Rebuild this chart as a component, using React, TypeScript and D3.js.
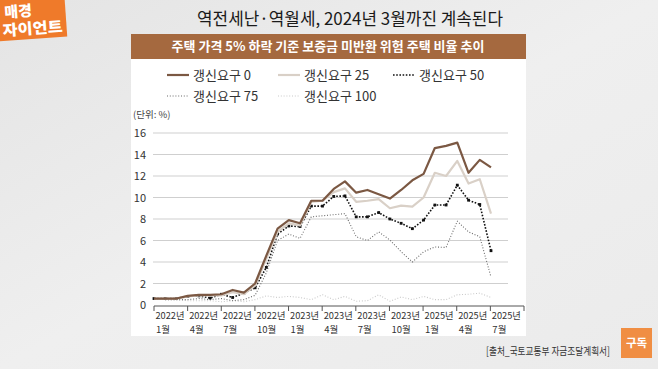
import React from 'react'
import * as d3 from 'd3'

// x-axis tick labels (quarterly bands), as printed on the chart
const tickYears = ['2022년', '2022년', '2022년', '2022년', '2023년', '2023년', '2023년', '2023년', '2025년', '2025년', '2025년']
const tickMonths = ['1월', '4월', '7월', '10월', '1월', '4월', '7월', '10월', '1월', '4월', '7월']
const yTicks = [0, 2, 4, 6, 8, 10, 12, 14, 16]

// monthly values, 31 points
const renew0 = [0.6, 0.6, 0.6, 0.85, 0.95, 0.95, 1.0, 1.4, 1.15, 2.0, 4.6, 7.1, 7.9, 7.6, 9.7, 9.7, 10.8, 11.5, 10.45, 10.7, 10.3, 9.9, 10.7, 11.6, 12.2, 14.6, 14.8, 15.1, 12.3, 13.5, 12.8]
const renew25 = [0.6, 0.6, 0.6, 0.8, 0.9, 0.9, 0.9, 1.2, 1.0, 1.8, 4.3, 6.8, 7.6, 7.4, 9.6, 9.7, 10.5, 10.85, 9.6, 9.7, 9.85, 9.0, 9.25, 9.15, 10.0, 12.3, 12.0, 13.4, 11.3, 11.7, 8.5]
const renew50 = [0.6, 0.6, 0.6, 0.8, 0.85, 0.65, 1.0, 0.7, 1.1, 1.6, 3.5, 6.6, 7.35, 7.3, 9.2, 9.2, 10.1, 10.15, 8.2, 8.2, 8.6, 8.0, 7.6, 7.1, 7.9, 9.3, 9.3, 11.15, 9.75, 9.35, 5.05]
const renew75 = [0.6, 0.5, 0.5, 0.5, 0.6, 0.5, 0.6, 0.4, 0.5, 0.9, 3.0, 6.0, 6.6, 6.2, 8.2, 8.3, 8.4, 8.5, 6.35, 6.0, 6.8, 6.05, 4.95, 4.0, 4.95, 5.4, 5.35, 7.8, 6.8, 6.35, 2.6]
const renew100 = [0.6, 0.5, 0.5, 0.4, 0.4, 0.4, 0.3, 0.4, 0.3, 0.5, 0.85, 0.7, 0.8, 0.7, 0.5, 0.95, 0.5, 0.8, 0.35, 0.4, 0.95, 0.35, 0.75, 0.5, 0.8, 0.5, 0.5, 0.95, 1.0, 1.1, 0.7]

const series = [
  { name: '갱신요구 0', values: renew0, color: '#7b5843', width: 2.2, dash: '', marker: false },
  { name: '갱신요구 25', values: renew25, color: '#d9d0c7', width: 2.2, dash: '', marker: false },
  { name: '갱신요구 50', values: renew50, color: '#111', width: 1.6, dash: '1.6 1.6', marker: true },
  { name: '갱신요구 75', values: renew75, color: '#6b6b6b', width: 1.1, dash: '1 1.8', marker: false },
  { name: '갱신요구 100', values: renew100, color: '#c9c9c9', width: 1.1, dash: '1 1.8', marker: false },
]

const FONT = "'Noto Sans CJK KR', 'Noto Sans', sans-serif"

export default function App() {
  const width = 658,
    height = 369

  const x = d3.scaleBand<number>().domain(d3.range(tickYears.length)).range([154, 524])
  const xm = d3.scaleLinear().domain([0, renew0.length - 1]).range([154, 491])
  const y = d3.scaleLinear().domain([0, 16]).range([305, 133])

  const line = d3
    .line<number>()
    .x((d, i) => xm(i))
    .y(d => y(d))

  // legend positions
  const legend = [
    { lx: 167, ly: 75 },
    { lx: 278, ly: 75 },
    { lx: 393, ly: 75 },
    { lx: 167, ly: 96 },
    { lx: 278, ly: 96 },
  ]

  const bandEdges = [...x.domain().map(d => x(d) as number), 524]

  return (
    <svg
      width={width}
      height={height}
      style={{ position: 'absolute', left: 0, top: 0, fontFamily: FONT }}
    >
      <defs>
        <linearGradient id="bg" x1="0" x2="1" y1="0" y2="1">
          <stop offset="0" stopColor="#e4e4e4" />
          <stop offset="0.5" stopColor="#efefef" />
          <stop offset="1" stopColor="#ebebeb" />
        </linearGradient>
      </defs>
      <rect width={width} height={height} fill="url(#bg)" />

      {/* logo */}
      <g transform="rotate(-4 30 20)">
        <rect x={-4} y={-6} width={70} height={45} fill="#ef7a2a" />
        <text x={5} y={16} fill="#fff" fontSize={15} fontWeight={900}>매경</text>
        <text x={2} y={34} fill="#fff" fontSize={15} fontWeight={900} textLength={60} lengthAdjust="spacingAndGlyphs">자이언트</text>
      </g>

      {/* headline */}
      <text x={197} y={25} fontSize={17} fill="#1a1a1a" textLength={306} lengthAdjust="spacingAndGlyphs">
        역전세난·역월세, 2024년 3월까진 계속된다
      </text>

      {/* card */}
      <rect x={131} y={34} width={395} height={302} fill="#fff" />
      <rect x={131} y={34} width={395} height={25} fill="#a5693f" />
      <text x={328} y={51} textAnchor="middle" fill="#fff" fontSize={13} fontWeight={700}>
        주택 가격 5% 하락 기준 보증금 미반환 위험 주택 비율 추이
      </text>

      {/* legend */}
      {series.map((s, i) => (
        <g key={s.name} transform={`translate(${legend[i].lx}, ${legend[i].ly})`}>
          <line x1={0} x2={22} y1={0} y2={0} stroke={s.color} strokeWidth={s.width} strokeDasharray={s.dash || undefined} />
          <text x={26} y={5} fontSize={13} fill="#333">{s.name}</text>
        </g>
      ))}
      <text x={133} y={118} fontSize={9.5} fill="#444">(단위: %)</text>

      {/* grid + y labels */}
      {yTicks.map(t => (
        <g key={t}>
          {t > 0 && <line x1={153} x2={508} y1={y(t)} y2={y(t)} stroke="#cfcfcf" strokeWidth={1} />}
          <text x={146} y={y(t) + 4} textAnchor="end" fontSize={11} fill="#333">{t}</text>
        </g>
      ))}

      {/* x axis */}
      <line x1={154} x2={524} y1={y(0) + 1} y2={y(0) + 1} stroke="#555" strokeWidth={1} />
      {bandEdges.map((e, i) => (
        <line key={i} x1={e} x2={e} y1={y(0) + 1} y2={y(0) + 6} stroke="#555" strokeWidth={1} />
      ))}
      {tickYears.map((t, i) => (
        <g key={i}>
          <text x={(x(i) as number) + 1.5} y={319} fontSize={9.5} fill="#333" textLength={29} lengthAdjust="spacingAndGlyphs">
            {t}
          </text>
          <text x={(x(i) as number) + 2} y={333} fontSize={9.5} fill="#333">
            {tickMonths[i]}
          </text>
        </g>
      ))}

      {/* series, drawn back to front */}
      {[...series].reverse().map(s => (
        <g key={s.name}>
          <path
            d={line(s.values) || ''}
            fill="none"
            stroke={s.color}
            strokeWidth={s.width}
            strokeDasharray={s.dash || undefined}
            strokeLinejoin="round"
          />
          {s.marker &&
            s.values.map((v, i) => (
              <rect key={i} x={xm(i) - 1.4} y={y(v) - 1.4} width={2.8} height={2.8} fill={s.color} />
            ))}
        </g>
      ))}

      {/* source + subscribe badge */}
      <text x={486} y={355} fontSize={10.5} fill="#333" textLength={124} lengthAdjust="spacingAndGlyphs">
        [출처_국토교통부 자금조달계획서]
      </text>
      <rect x={621} y={328} width={31} height={30} fill="#f0893a" opacity={0.95} />
      <text x={636.5} y={347} textAnchor="middle" fontSize={11.5} fontWeight={700} fill="#fff">구독</text>
    </svg>
  )
}
